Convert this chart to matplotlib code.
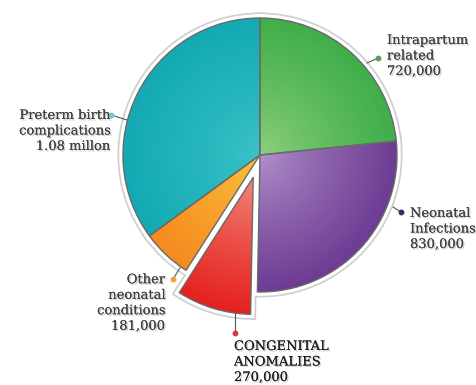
import numpy as np
import matplotlib.pyplot as plt
import matplotlib.patheffects as pe
from matplotlib.patches import Wedge
from matplotlib.colors import to_rgb

# Data (deaths per cause)
causes = ["Intrapartum\nrelated", "Neonatal\nInfections", "CONGENITAL\nANOMALIES",
          "Other\nneonatal\nconditions", "Preterm birth\ncomplications"]
values = [720000, 830000, 270000, 181000, 1080000]
value_labels = ["720,000", "830,000", "270,000", "181,000", "1.08 millon"]

# Styles
base_colors = ["#3fae49", "#6d3b93", "#e5211f", "#f58a1f", "#14aab3"]
light_colors = ["#8fd080", "#b393cc", "#f28d7e", "#fdc63f", "#3cc3c9"]
dot_colors = ["#5d9c5a", "#3f2a6e", "#d23a3a", "#f0a040", "#6ccbd0"]
explode_frac = [0, 0, 0.17, 0, 0]

# label layout in image pixels (y from top): text x, text y, align, rim pt, dot pt
layout = [
    (387, 56, "left", (367, 63), (378, 58)),
    (410, 229, "left", (393, 207), (401, 212)),
    (234, 362, "left", (235, 313), (235, 333)),
    (165, 303, "right", (180, 268), (173, 279)),
    (110, 131, "right", (127, 120), (111, 115)),
]

W, H = 477, 385
fig = plt.figure(figsize=(W / 100, H / 100), dpi=100)
ax = fig.add_axes([0, 0, 1, 1])

cx, cy, R = 260, H - 155, 137
explode = [f * R for f in explode_frac]  # pie explode is in data units

# halo rim, white band, then shaded fills
for ec, lw in [("#cfcfcf", 8), ("white", 5.5)]:
    ax.pie(values, center=(cx, cy), radius=R, startangle=90, counterclock=False,
           explode=explode, frame=True,
           wedgeprops=dict(edgecolor=ec, linewidth=lw, facecolor="white"))
wedges, _ = ax.pie(values, center=(cx, cy), radius=R, startangle=90, counterclock=False,
                   explode=explode, colors=base_colors, frame=True,
                   wedgeprops=dict(edgecolor="none"))

xx, yy = np.meshgrid(np.arange(0, W), np.arange(0, H))
for w, c0, c1 in zip(wedges, light_colors, base_colors):
    wx, wy = w.center
    d = np.clip(np.hypot(xx - wx, yy - wy) / R, 0, 1) ** 0.8
    a, b = np.array(to_rgb(c0)), np.array(to_rgb(c1))
    img = a[None, None, :] * (1 - d[..., None]) + b[None, None, :] * d[..., None]
    im = ax.imshow(img, extent=(0, W, 0, H), origin="lower", zorder=2,
                   interpolation="bilinear")
    im.set_clip_path(w)
    ax.add_patch(Wedge(w.center, w.r, w.theta1, w.theta2, fill=False,
                       edgecolor="#6a6a6a", linewidth=1.0, zorder=3))
ax.set_aspect("equal")
ax.set_xlim(0, W)
ax.set_ylim(0, H)
ax.axis("off")

shadow = [pe.withSimplePatchShadow(offset=(1, -1), shadow_rgbFace="#999999", alpha=0.5),
          pe.Normal()]
for i, (name, val) in enumerate(zip(causes, value_labels)):
    tx, ty, ha, rim, dot = layout[i]
    ax.plot([rim[0], dot[0]], [H - rim[1], H - dot[1]], color="#555555", lw=0.8, zorder=4)
    ax.plot(dot[0], H - dot[1], "o", ms=3.2, color=dot_colors[i], zorder=5)
    col = "#1e1e1e" if i == 2 else "#404040"
    ax.text(tx, H - ty, name + "\n" + val, ha=ha, va="center", fontsize=9.4,
            family="DejaVu Serif", color=col, linespacing=1.25,
            path_effects=shadow, zorder=6)

fig.savefig("out.png", dpi=100)
